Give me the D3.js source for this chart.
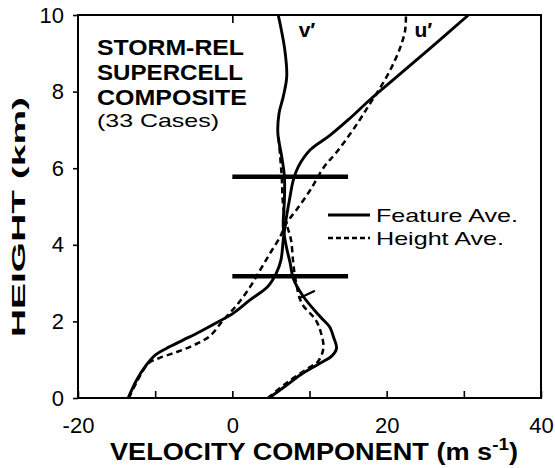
<!DOCTYPE html>
<html>
<head>
<meta charset="utf-8">
<script src="https://cdn.jsdelivr.net/npm/d3@7"></script>
<style>
  body { margin: 0; background: #fff; }
  svg { display: block; font-family: "Liberation Sans", Arial, sans-serif; }
</style>
</head>
<body>
<div id="chart"></div>
<script>
// u' feature average (solid)
const uFeatH = [0, 0.47, 0.82, 1.12, 1.3, 1.51, 1.73, 1.97, 2.21, 2.56, 2.91, 3.26, 3.6, 4.13, 4.65, 5.17, 5.69, 6.04, 6.48, 6.85, 7.26, 7.78, 8.3, 9.09, 10];
const uFeat  = [-13.5, -12.4, -11.3, -10.0, -8.5, -6.4, -4.2, -2.0, 0.1, 2.3, 4.6, 5.7, 6.3, 6.6, 6.95, 7.4, 7.9, 8.55, 10.1, 12.6, 15.0, 17.8, 20.8, 25.4, 30.6];

// u' height average (dashed)
const uHgtH = [0, 0.45, 0.9, 1.05, 1.2, 1.38, 1.62, 2.05, 2.43, 2.9, 3.34, 3.78, 4.21, 4.56, 4.91, 5.43, 6.04, 6.39, 6.82, 7.26, 7.61, 7.95, 8.39, 8.83, 9.26, 9.61, 10];
const uHgt  = [-13.4, -12.3, -10.9, -9.4, -7.2, -5.0, -2.9, -1.1, 0.6, 2.3, 3.6, 4.9, 6.2, 7.0, 8.3, 10.1, 11.9, 13.4, 15.0, 16.5, 17.6, 18.7, 20.0, 21.1, 21.95, 22.4, 22.5];

// v' feature average (solid)
const vFeatH = [0, 0.3, 0.6, 0.9, 1.1, 1.3, 1.6, 1.86, 2.12, 2.65, 3.12, 3.52, 3.95, 4.47, 5.17, 5.78, 6.3, 6.91, 7.43, 7.87, 8.39, 9.09, 10];
const vFeat  = [4.75, 6.8, 8.8, 11.3, 12.9, 13.5, 13.1, 12.6, 11.4, 9.2, 7.9, 7.5, 7.0, 6.6, 6.75, 6.75, 6.4, 5.9, 6.05, 6.6, 7.05, 6.8, 5.95];

// v' height average (dashed)
const vHgtH = [0, 0.42, 0.8, 0.95, 1.3, 1.69, 2.04, 2.47, 3.08, 3.52, 4.13, 4.5, 5.0, 5.78, 6.3, 6.91];
const vHgt  = [4.6, 7.2, 10.0, 11.1, 11.8, 11.5, 10.8, 9.0, 8.2, 7.9, 7.6, 7.1, 6.6, 6.4, 6.2, 5.95];

// horizontal bars and the small cross tick
const barLevels = [3.18, 5.78];
const barSpan = [0, 15];
const crossV = [8.6, 10.7];
const crossH = [2.6, 2.8];

const xTicks = [-20, -10, 0, 10, 20, 30, 40];
const xLabels = [-20, 0, 20, 40];
const yTicks = [0, 2, 4, 6, 8, 10];

const margin = {top: 15, right: 14, bottom: 70, left: 78};
const W = 555, H = 468;
const width = W - margin.left - margin.right;
const height = H - margin.top - margin.bottom;

const svg = d3.select("#chart").append("svg")
  .attr("width", W)
  .attr("height", H);

const g = svg.append("g")
  .attr("transform", `translate(${margin.left},${margin.top})`);

const x = d3.scaleLinear().domain([-20, 40]).range([0, width]);
const y = d3.scaleLinear().domain([0, 10]).range([height, 0]);

// frame
g.append("rect")
  .attr("width", width)
  .attr("height", height)
  .attr("fill", "none")
  .attr("stroke", "#000")
  .attr("stroke-width", 2);

// bottom axis, ticks point inward
const xAxis = g.append("g")
  .attr("transform", `translate(0,${height})`)
  .call(d3.axisBottom(x).tickValues(xTicks).tickSizeInner(-7).tickSizeOuter(0).tickPadding(19)
    .tickFormat(d => xLabels.includes(d) ? d : ""));
xAxis.select(".domain").remove();

// one tick on top at zero
const topAxis = g.append("g")
  .call(d3.axisTop(x).tickValues([0]).tickSizeInner(-8).tickSizeOuter(0).tickFormat(""));
topAxis.select(".domain").remove();

// left axis, ticks outward
const yAxis = g.append("g")
  .call(d3.axisLeft(y).tickValues(yTicks).tickSizeInner(5).tickSizeOuter(0).tickPadding(9));
yAxis.select(".domain").remove();

g.selectAll(".tick line").attr("stroke", "#000").attr("stroke-width", 1.6);
g.selectAll(".tick text")
  .attr("fill", "#000")
  .attr("font-size", 22)
  .attr("font-family", "Liberation Sans, Arial, sans-serif");

// curves
const line = d3.line()
  .x(d => x(d[0]))
  .y(d => y(d[1]))
  .curve(d3.curveCatmullRom.alpha(0.5));

const series = [
  {v: uFeat, h: uFeatH, dash: null},
  {v: vFeat, h: vFeatH, dash: null},
  {v: uHgt, h: uHgtH, dash: "6,4"},
  {v: vHgt, h: vHgtH, dash: "6,4"}
];

series.forEach(s => {
  g.append("path")
    .datum(s.v.map((v, i) => [v, s.h[i]]))
    .attr("d", line)
    .attr("fill", "none")
    .attr("stroke", "#000")
    .attr("stroke-width", s.dash ? 2.5 : 2.9)
    .attr("stroke-dasharray", s.dash);
});

// thick horizontal bars
g.selectAll(".bar")
  .data(barLevels)
  .enter()
  .append("line")
  .attr("x1", x(barSpan[0]))
  .attr("x2", x(barSpan[1]))
  .attr("y1", d => y(d))
  .attr("y2", d => y(d))
  .attr("stroke", "#000")
  .attr("stroke-width", 4.5);

g.append("line")
  .attr("x1", x(crossV[0])).attr("y1", y(crossH[0]))
  .attr("x2", x(crossV[1])).attr("y2", y(crossH[1]))
  .attr("stroke", "#000")
  .attr("stroke-width", 2.2);

// curve labels
g.append("text").attr("x", x(8.6)).attr("y", 22)
  .attr("font-size", 21).attr("font-weight", "bold").text("v\u2032");
g.append("text").attr("x", x(23.6)).attr("y", 22)
  .attr("font-size", 21).attr("font-weight", "bold").text("u\u2032");

// title block
const titleLines = ["STORM-REL", "SUPERCELL", "COMPOSITE"];
const titleLens = [147, 146, 150];
titleLines.forEach((t, i) => {
  svg.append("text")
    .attr("x", 97).attr("y", 55 + i * 25)
    .attr("font-size", 22).attr("font-weight", "bold")
    .attr("textLength", titleLens[i]).attr("lengthAdjust", "spacingAndGlyphs")
    .text(t);
});
svg.append("text")
  .attr("x", 97).attr("y", 127)
  .attr("font-size", 19)
  .attr("textLength", 122).attr("lengthAdjust", "spacingAndGlyphs")
  .text("(33 Cases)");

// legend
const legend = [
  {label: "Feature Ave.", dash: null, len: 142},
  {label: "Height Ave.", dash: "5,3", len: 128}
];
legend.forEach((d, i) => {
  const ly = 215 + i * 23;
  svg.append("line")
    .attr("x1", 328).attr("x2", 370).attr("y1", ly).attr("y2", ly)
    .attr("stroke", "#000").attr("stroke-width", d.dash ? 2.5 : 2.9)
    .attr("stroke-dasharray", d.dash);
  svg.append("text")
    .attr("x", 376).attr("y", ly + 7)
    .attr("font-size", 19)
    .attr("textLength", d.len).attr("lengthAdjust", "spacingAndGlyphs")
    .text(d.label);
});

// axis titles
const xt = svg.append("text")
  .attr("x", 110).attr("y", 460)
  .attr("font-size", 23).attr("font-weight", "bold")
  .attr("textLength", 408).attr("lengthAdjust", "spacingAndGlyphs");
xt.append("tspan").text("VELOCITY COMPONENT (m s");
xt.append("tspan").attr("dy", -10).attr("font-size", 16).text("-1");
xt.append("tspan").attr("dy", 10).text(")");

svg.append("text")
  .attr("transform", "translate(25,337) rotate(-90)")
  .attr("font-size", 19).attr("font-weight", "bold")
  .attr("textLength", 240).attr("lengthAdjust", "spacingAndGlyphs")
  .text("HEIGHT (km)");
</script>
</body>
</html>
